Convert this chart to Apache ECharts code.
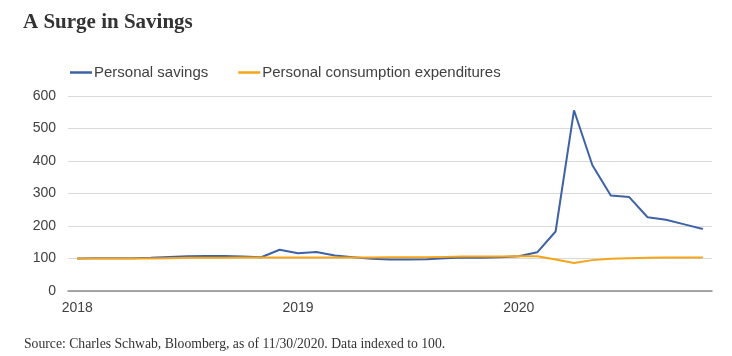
<!DOCTYPE html>
<html>
<head>
<meta charset="utf-8">
<script src="https://cdn.jsdelivr.net/npm/echarts@6/dist/echarts.min.js"></script>
<style>
html,body{margin:0;padding:0;background:#fff;}
#chart{width:732px;height:356px;}
</style>
</head>
<body>
<div id="chart"></div>
<script>
const months = [
  '2018-01','2018-02','2018-03','2018-04','2018-05','2018-06','2018-07','2018-08','2018-09','2018-10','2018-11','2018-12',
  '2019-01','2019-02','2019-03','2019-04','2019-05','2019-06','2019-07','2019-08','2019-09','2019-10','2019-11','2019-12',
  '2020-01','2020-02','2020-03','2020-04','2020-05','2020-06','2020-07','2020-08','2020-09','2020-10','2020-11'
];
const personalSavings = [
  100, 101, 101, 101, 102, 105, 107, 108, 108, 106, 104, 127,
  116, 120, 109, 104, 99, 97, 97, 98, 101, 103, 102, 104,
  107, 119, 183, 556, 387, 294, 289, 227, 219, 205, 191
];
const personalConsumption = [
  100, 100, 100, 100, 100, 101, 102, 102, 102, 103, 103, 103,
  103, 103, 103, 103, 103, 104, 104, 104, 105, 106, 106, 106,
  107, 107, 97, 86, 95, 99, 101, 102, 103, 103, 103
];
const yTicks = [0, 100, 200, 300, 400, 500, 600];
const seriesNames = ['Personal savings', 'Personal consumption expenditures'];
const titleText = 'A Surge in Savings';
const sourceText = 'Source: Charles Schwab, Bloomberg, as of 11/30/2020. Data indexed to 100.';

const chart = echarts.init(document.getElementById('chart'));
chart.setOption({
  backgroundColor: '#ffffff',
  animation: false,
  title: [{
    text: titleText,
    left: 23, top: 12, padding: 0,
    textStyle: {fontFamily: 'Liberation Serif', fontWeight: 'bold', fontSize: 21, color: '#333333'}
  }, {
    text: sourceText,
    left: 24, top: 337, padding: 0,
    textStyle: {fontFamily: 'Liberation Serif', fontWeight: 'normal', fontSize: 13.7, color: '#333333'}
  }],
  legend: {
    data: seriesNames,
    left: 70, top: 65, padding: 0,
    icon: 'rect', itemWidth: 22, itemHeight: 2.5, itemGap: 30,
    textStyle: {fontFamily: 'Liberation Sans', fontSize: 15, color: '#404040', padding: [0, 0, 0, -3]}
  },
  grid: {left: 68, right: 20, top: 96, bottom: 65, containLabel: false},
  xAxis: {
    type: 'category',
    data: months,
    boundaryGap: true,
    axisLine: {show: true, lineStyle: {color: '#8c8c8c', width: 1.5}},
    axisTick: {show: false},
    axisLabel: {
      interval: function (i) { return i % 12 === 0; },
      formatter: function (v) { return v.slice(0, 4); },
      fontFamily: 'Liberation Sans', fontSize: 14, color: '#404040', margin: 10
    },
    splitLine: {show: false}
  },
  yAxis: {
    type: 'value',
    min: yTicks[0], max: yTicks[yTicks.length - 1], interval: 100,
    axisLine: {show: false},
    axisTick: {show: false},
    axisLabel: {fontFamily: 'Liberation Sans', fontSize: 14, color: '#404040', margin: 12},
    splitLine: {lineStyle: {color: '#d9d9d9', width: 1}}
  },
  series: [{
    name: seriesNames[0],
    type: 'line',
    data: personalSavings,
    symbol: 'none',
    lineStyle: {color: '#3e62a6', width: 2},
    itemStyle: {color: '#3e62a6'},
    z: 2
  }, {
    name: seriesNames[1],
    type: 'line',
    data: personalConsumption,
    symbol: 'none',
    lineStyle: {color: '#f6a419', width: 2},
    itemStyle: {color: '#f6a419'},
    z: 3
  }]
});
</script>
</body>
</html>
